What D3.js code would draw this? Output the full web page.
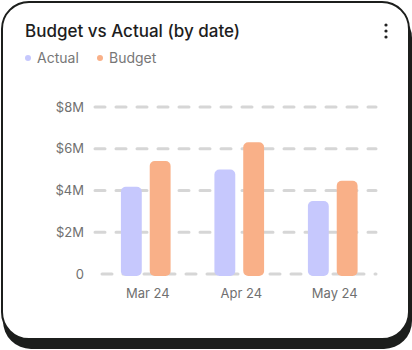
<!DOCTYPE html>
<html><head><meta charset="utf-8">
<script src="https://cdn.jsdelivr.net/npm/d3@7"></script>
<style>
html,body{margin:0;padding:0;background:#fff;width:412px;height:350px;overflow:hidden;}
#card{position:absolute;left:1px;top:1px;width:405px;height:335px;border:2px solid #1c1e1c;border-radius:28px;box-shadow:2px 9px 0 #1c1e1c;background:#fff;}
svg{position:absolute;left:0;top:0;}
</style></head><body>
<div id="card"></div>
<svg id="chart" width="412" height="350"></svg>
<script>
const categories = ["Mar 24", "Apr 24", "May 24"];
const seriesNames = ["Actual", "Budget"];
const actual = [4.18, 5.01, 3.50];
const budget = [5.41, 6.31, 4.47];
const yTicks = [0, 2, 4, 6, 8];
const yTickLabels = ["0", "$2M", "$4M", "$6M", "$8M"];
const colors = ["#c6c8fd", "#f9b088"];

const font = "Inter, 'Noto Sans', sans-serif";
const svg = d3.select("#chart");

// Title
svg.append("text").attr("x", 25).attr("y", 37).text("Budget vs Actual (by date)")
  .attr("font-family", font).attr("font-size", 17).attr("font-weight", 500).attr("fill", "#1d1d1d");

// Kebab menu
[25, 31, 37].forEach(cy => svg.append("circle").attr("cx", 386).attr("cy", cy).attr("r", 1.6).attr("fill", "#222"));

// Legend
const legendX = [28, 100];
seriesNames.forEach((n, i) => {
  svg.append("circle").attr("cx", legendX[i]).attr("cy", 58).attr("r", 3).attr("fill", colors[i]);
  svg.append("text").attr("x", legendX[i] + 9).attr("y", 63).text(n)
    .attr("font-family", font).attr("font-size", 14).attr("fill", "#777");
});

const x = d3.scaleBand().domain(categories).range([99, 379.5]);
const y = d3.scaleLinear().domain([0, 8]).range([274, 107]);

// grid
const grid = svg.append("g");
yTicks.forEach(t => {
  grid.append("line").attr("x1", t === 0 ? 102 : 95).attr("x2", 376)
    .attr("y1", y(t)).attr("y2", y(t))
    .attr("stroke", "#d6d6d6").attr("stroke-width", 3)
    .attr("stroke-dasharray", "10 11").attr("stroke-linecap", "round");
});

// y axis labels
const yAxis = d3.axisLeft(y).tickValues(yTicks).tickSize(0).tickPadding(0)
  .tickFormat(d => yTickLabels[yTicks.indexOf(d)]);
const ya = svg.append("g").attr("transform", "translate(84,0)").call(yAxis);
ya.select(".domain").remove();
ya.selectAll("text").attr("font-family", font).attr("font-size", 13).attr("fill", "#707070");

// x axis labels
const xAxis = d3.axisBottom(x).tickSize(0).tickPadding(0);
const xa = svg.append("g").attr("transform", "translate(2,289)").call(xAxis);
xa.select(".domain").remove();
xa.selectAll("text").attr("font-family", font).attr("font-size", 13).attr("fill", "#707070");

// bars
const x1 = d3.scaleBand().domain(seriesNames).range([0, x.bandwidth()]).paddingInner(0.276).paddingOuter(0.76);
const data = [actual, budget];
seriesNames.forEach((s, si) => {
  svg.append("g").selectAll("rect").data(categories).join("rect")
    .attr("x", c => x(c) + x1(s))
    .attr("width", x1.bandwidth())
    .attr("y", (c, i) => y(data[si][i]))
    .attr("height", (c, i) => y(0) - y(data[si][i]) + 2)
    .attr("rx", 5).attr("fill", colors[si]);
});
</script>
</body></html>
